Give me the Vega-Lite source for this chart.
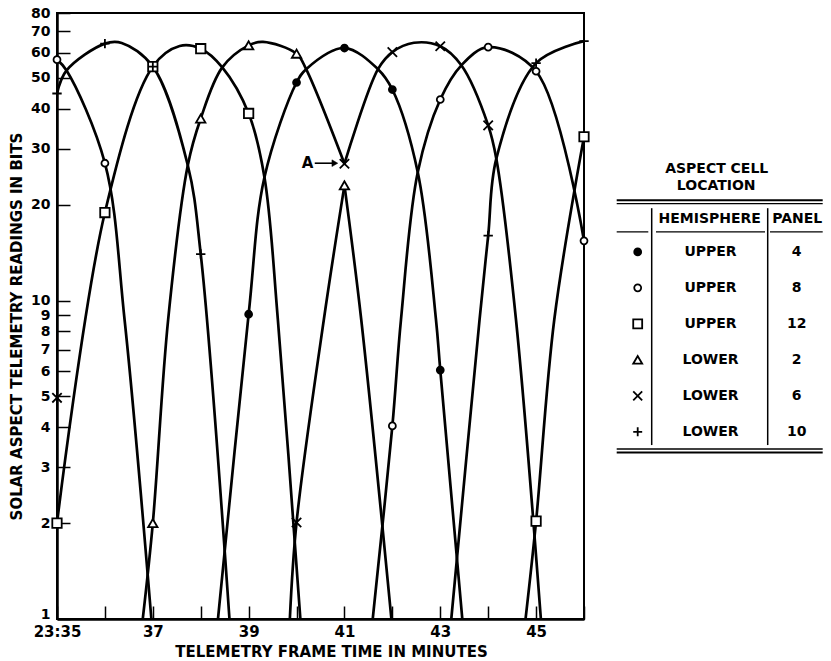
{
  "$schema": "https://vega.github.io/schema/vega-lite/v6.json",
  "background": "white",
  "padding": {"left": 8, "top": 5, "right": 5, "bottom": 0},
  "bounds": "flush",
  "spacing": 28,
  "config": {
    "font": "DejaVu Sans",
    "axis": {"grid": false, "domainColor": "black", "tickColor": "black", "labelColor": "black", "titleColor": "black", "labelFont": "DejaVu Sans", "titleFont": "DejaVu Sans", "labelFontWeight": "bold", "titleFontWeight": "bold"}
  },
  "datasets": {
    "curves": [
      {"path": "plus1", "minute": 35, "bits": 44.7},
      {"path": "plus1", "minute": 35.2, "bits": 52.8},
      {"path": "plus1", "minute": 36, "bits": 64.1},
      {"path": "plus1", "minute": 36.35, "bits": 64.4},
      {"path": "plus1", "minute": 37, "bits": 54.3},
      {"path": "plus1", "minute": 37.73, "bits": 26.6},
      {"path": "plus1", "minute": 38, "bits": 14.0},
      {"path": "plus1", "minute": 38.6, "bits": 1},
      {"path": "circ1", "minute": 35, "bits": 57.1},
      {"path": "circ1", "minute": 35.2, "bits": 52.8},
      {"path": "circ1", "minute": 36, "bits": 27.0},
      {"path": "circ1", "minute": 36.41, "bits": 8.72},
      {"path": "circ1", "minute": 36.97, "bits": 1},
      {"path": "sq1", "minute": 35, "bits": 2.0},
      {"path": "sq1", "minute": 36, "bits": 18.9},
      {"path": "sq1", "minute": 37, "bits": 54.3},
      {"path": "sq1", "minute": 37.56, "bits": 63.0},
      {"path": "sq1", "minute": 38, "bits": 61.8},
      {"path": "sq1", "minute": 38.45, "bits": 54.0},
      {"path": "sq1", "minute": 39, "bits": 38.7},
      {"path": "sq1", "minute": 39.33, "bits": 24.4},
      {"path": "sq1", "minute": 39.61, "bits": 8.72},
      {"path": "sq1", "minute": 40.08, "bits": 1},
      {"path": "tri1", "minute": 36.79, "bits": 1},
      {"path": "tri1", "minute": 37, "bits": 2.0},
      {"path": "tri1", "minute": 37.32, "bits": 8.72},
      {"path": "tri1", "minute": 37.73, "bits": 26.6},
      {"path": "tri1", "minute": 38, "bits": 37.3},
      {"path": "tri1", "minute": 38.45, "bits": 54.0},
      {"path": "tri1", "minute": 39, "bits": 63.3},
      {"path": "tri1", "minute": 39.3, "bits": 64.9},
      {"path": "tri1", "minute": 40, "bits": 59.6},
      {"path": "tri1", "minute": 40.2, "bits": 53.3},
      {"path": "tri1", "minute": 41, "bits": 26.9},
      {"path": "xA", "minute": 41, "bits": 26.9},
      {"path": "xA", "minute": 41.7, "bits": 53.3},
      {"path": "xA", "minute": 42, "bits": 60.3},
      {"path": "xA", "minute": 42.45, "bits": 64.5},
      {"path": "xA", "minute": 43, "bits": 62.9},
      {"path": "xA", "minute": 43.44, "bits": 54.8},
      {"path": "xA", "minute": 44, "bits": 35.5},
      {"path": "xA", "minute": 44.17, "bits": 27.9},
      {"path": "xA", "minute": 44.58, "bits": 8.72},
      {"path": "xA", "minute": 45.1, "bits": 1},
      {"path": "lowL", "minute": 39.86, "bits": 1},
      {"path": "lowL", "minute": 40, "bits": 2.01},
      {"path": "lowL", "minute": 40.57, "bits": 8.72},
      {"path": "lowL", "minute": 41, "bits": 23.0},
      {"path": "lowR", "minute": 41, "bits": 23.0},
      {"path": "lowR", "minute": 41.35, "bits": 8.72},
      {"path": "lowR", "minute": 41.98, "bits": 1},
      {"path": "fc", "minute": 38.36, "bits": 1},
      {"path": "fc", "minute": 39, "bits": 9.06},
      {"path": "fc", "minute": 39.33, "bits": 24.4},
      {"path": "fc", "minute": 40, "bits": 48.4},
      {"path": "fc", "minute": 40.2, "bits": 53.3},
      {"path": "fc", "minute": 41, "bits": 62.1},
      {"path": "fc", "minute": 41.7, "bits": 53.3},
      {"path": "fc", "minute": 42, "bits": 46.0},
      {"path": "fc", "minute": 42.53, "bits": 25.3},
      {"path": "fc", "minute": 42.91, "bits": 8.72},
      {"path": "fc", "minute": 43, "bits": 6.05},
      {"path": "fc", "minute": 43.46, "bits": 1},
      {"path": "circ2", "minute": 41.59, "bits": 1},
      {"path": "circ2", "minute": 42, "bits": 4.04},
      {"path": "circ2", "minute": 42.18, "bits": 8.72},
      {"path": "circ2", "minute": 42.53, "bits": 25.3},
      {"path": "circ2", "minute": 43, "bits": 42.8},
      {"path": "circ2", "minute": 43.44, "bits": 54.8},
      {"path": "circ2", "minute": 44, "bits": 62.5},
      {"path": "circ2", "minute": 45, "bits": 52.5},
      {"path": "circ2", "minute": 46, "bits": 15.4},
      {"path": "plus2", "minute": 43.23, "bits": 1},
      {"path": "plus2", "minute": 43.82, "bits": 8.72},
      {"path": "plus2", "minute": 44, "bits": 16.0},
      {"path": "plus2", "minute": 44.17, "bits": 27.9},
      {"path": "plus2", "minute": 45, "bits": 55.7},
      {"path": "plus2", "minute": 46, "bits": 65.3},
      {"path": "sq2", "minute": 44.78, "bits": 1},
      {"path": "sq2", "minute": 45, "bits": 2.03},
      {"path": "sq2", "minute": 45.38, "bits": 8.72},
      {"path": "sq2", "minute": 46, "bits": 32.7}
    ],
    "readings": [
      {"panel": 4, "minute": 39, "bits": 9.06},
      {"panel": 4, "minute": 40, "bits": 48.4},
      {"panel": 4, "minute": 41, "bits": 62.1},
      {"panel": 4, "minute": 42, "bits": 46.0},
      {"panel": 4, "minute": 43, "bits": 6.05},
      {"panel": 8, "minute": 35, "bits": 57.1},
      {"panel": 8, "minute": 36, "bits": 27.0},
      {"panel": 8, "minute": 42, "bits": 4.04},
      {"panel": 8, "minute": 43, "bits": 42.8},
      {"panel": 8, "minute": 44, "bits": 62.5},
      {"panel": 8, "minute": 45, "bits": 52.5},
      {"panel": 8, "minute": 46, "bits": 15.4},
      {"panel": 12, "minute": 35, "bits": 2.0},
      {"panel": 12, "minute": 36, "bits": 18.9},
      {"panel": 12, "minute": 37, "bits": 54.3},
      {"panel": 12, "minute": 38, "bits": 61.8},
      {"panel": 12, "minute": 39, "bits": 38.7},
      {"panel": 12, "minute": 45, "bits": 2.03},
      {"panel": 12, "minute": 46, "bits": 32.7},
      {"panel": 2, "minute": 37, "bits": 2.0},
      {"panel": 2, "minute": 38, "bits": 37.3},
      {"panel": 2, "minute": 39, "bits": 63.3},
      {"panel": 2, "minute": 40, "bits": 59.6},
      {"panel": 2, "minute": 41, "bits": 23.0},
      {"panel": 6, "minute": 35, "bits": 4.95},
      {"panel": 6, "minute": 40, "bits": 2.01},
      {"panel": 6, "minute": 41, "bits": 26.9},
      {"panel": 6, "minute": 42, "bits": 60.3},
      {"panel": 6, "minute": 43, "bits": 62.9},
      {"panel": 6, "minute": 44, "bits": 35.5},
      {"panel": 10, "minute": 35, "bits": 44.7},
      {"panel": 10, "minute": 36, "bits": 64.1},
      {"panel": 10, "minute": 37, "bits": 54.3},
      {"panel": 10, "minute": 38, "bits": 14.0},
      {"panel": 10, "minute": 44, "bits": 16.0},
      {"panel": 10, "minute": 45, "bits": 55.7},
      {"panel": 10, "minute": 46, "bits": 65.3}
    ],
    "cells": [
      {"panel": 4, "hemisphere": "UPPER"},
      {"panel": 8, "hemisphere": "UPPER"},
      {"panel": 12, "hemisphere": "UPPER"},
      {"panel": 2, "hemisphere": "LOWER"},
      {"panel": 6, "hemisphere": "LOWER"},
      {"panel": 10, "hemisphere": "LOWER"}
    ]
  },
  "hconcat": [
    {
      "width": 527,
      "height": 606,
      "view": {"stroke": "black", "strokeWidth": 2},
      "layer": [
        {
          "data": {"name": "curves"},
          "mark": {"type": "line", "interpolate": "catmull-rom", "color": "black", "strokeWidth": 2.7, "clip": true},
          "encoding": {
            "x": {
              "field": "minute", "type": "quantitative",
              "scale": {"domain": [35, 46], "nice": false, "zero": false},
              "axis": {
                "values": [35, 36, 37, 38, 39, 40, 41, 42, 43, 44, 45, 46],
                "labelExpr": "datum.value == 35 ? '23:35' : (datum.value % 2 == 1 ? '' + datum.value : '')",
                "tickSize": -13, "tickWidth": 1.5, "labelPadding": 18, "labelFontSize": 15,
                "domainWidth": 2.5, "title": "TELEMETRY FRAME TIME IN MINUTES", "titleFontSize": 15,
                "titlePadding": 5, "titleX": 274, "labelOverlap": false, "labelFlush": false
              }
            },
            "y": {
              "field": "bits", "type": "quantitative",
              "scale": {"type": "log", "domain": [1, 80], "nice": false},
              "axis": {
                "values": [1, 2, 3, 4, 5, 6, 7, 8, 9, 10, 20, 30, 40, 50, 60, 70, 80],
                "format": "d", "tickSize": -13, "tickWidth": 1.5, "labelPadding": 20, "labelFontSize": 14,
                "labelOffset": {"condition": {"test": "datum.value == 1", "value": -5}, "value": 0},
                "domainWidth": 2.5, "title": "SOLAR ASPECT TELEMETRY READINGS IN BITS", "titleFontSize": 15,
                "titlePadding": 6, "titleY": 313, "labelOverlap": false, "labelFlush": false
              }
            },
            "detail": {"field": "path"}
          }
        },
        {
          "data": {"name": "readings"},
          "transform": [{"filter": "datum.panel == 4 || datum.panel == 8"}],
          "mark": {"type": "point", "filled": true, "stroke": "black", "strokeWidth": 1.8, "opacity": 1, "size": 48},
          "encoding": {
            "x": {"field": "minute", "type": "quantitative"},
            "y": {"field": "bits", "type": "quantitative"},
            "shape": {"field": "panel", "type": "nominal", "scale": {"domain": [4, 8, 12, 2, 6, 10], "range": ["circle", "circle", "square", "triangle-up", "M-1,-1L1,1M-1,1L1,-1", "M-1,0L1,0M0,-1L0,1"]}, "legend": null},
            "fill": {"field": "panel", "type": "nominal", "scale": {"domain": [4, 8, 12, 2, 6, 10], "range": ["black", "white", "white", "white", "white", "white"]}, "legend": null}
          }
        },
        {
          "data": {"name": "readings"},
          "transform": [{"filter": "datum.panel != 4 && datum.panel != 8"}],
          "mark": {"type": "point", "filled": true, "stroke": "black", "strokeWidth": 1.8, "opacity": 1, "size": 88},
          "encoding": {
            "x": {"field": "minute", "type": "quantitative"},
            "y": {"field": "bits", "type": "quantitative"},
            "shape": {"field": "panel", "type": "nominal", "scale": {"domain": [4, 8, 12, 2, 6, 10], "range": ["circle", "circle", "square", "triangle-up", "M-1,-1L1,1M-1,1L1,-1", "M-1,0L1,0M0,-1L0,1"]}, "legend": null},
            "fill": {"field": "panel", "type": "nominal", "scale": {"domain": [4, 8, 12, 2, 6, 10], "range": ["black", "white", "white", "white", "white", "white"]}, "legend": null}
          }
        },
        {
          "data": {"values": [{"note": "A"}]},
          "mark": {"type": "text", "fontSize": 15, "fontWeight": "bold", "fill": "black", "baseline": "middle", "align": "center"},
          "encoding": {
            "x": {"datum": 40.23, "type": "quantitative"},
            "y": {"datum": 27, "type": "quantitative"},
            "text": {"field": "note"}
          }
        },
        {
          "data": {"values": [{"note": "A"}]},
          "mark": {"type": "rule", "stroke": "black", "strokeWidth": 1.6},
          "encoding": {
            "x": {"datum": 40.38, "type": "quantitative"},
            "x2": {"datum": 40.76},
            "y": {"datum": 27, "type": "quantitative"}
          }
        },
        {
          "data": {"values": [{"note": "A"}]},
          "mark": {"type": "point", "shape": "triangle-right", "filled": true, "fill": "black", "stroke": "black", "strokeWidth": 0.5, "opacity": 1, "size": 45},
          "encoding": {
            "x": {"datum": 40.8, "type": "quantitative"},
            "y": {"datum": 27, "type": "quantitative"}
          }
        }
      ]
    },
    {
      "width": 212,
      "height": 606,
      "view": {"stroke": null},
      "layer": [
        {
          "data": {"values": [{}]},
          "mark": {"type": "text", "text": "ASPECT CELL", "fontSize": 14, "fontWeight": "bold", "color": "black", "baseline": "middle", "align": "center"},
          "encoding": {
            "x": {"datum": 104.7, "type": "quantitative", "scale": {"domain": [0, 212], "nice": false, "zero": false}, "axis": null},
            "y": {"datum": -1.30, "type": "quantitative", "scale": {"domain": [11.203, -5.639], "nice": false, "zero": false}, "axis": null}
          }
        },
        {
          "data": {"values": [{}]},
          "mark": {"type": "text", "text": "LOCATION", "fontSize": 14, "fontWeight": "bold", "color": "black", "baseline": "middle", "align": "center"},
          "encoding": {
            "x": {"datum": 104.2, "type": "quantitative", "scale": {"domain": [0, 212], "nice": false, "zero": false}, "axis": null},
            "y": {"datum": -0.83, "type": "quantitative", "scale": {"domain": [11.203, -5.639], "nice": false, "zero": false}, "axis": null}
          }
        },
        {
          "data": {"values": [{}]},
          "mark": {"type": "rule", "color": "black", "strokeWidth": 2},
          "encoding": {
            "x": {"datum": 4.7, "type": "quantitative", "scale": {"domain": [0, 212], "nice": false, "zero": false}, "axis": null},
            "x2": {"datum": 210.7},
            "y": {"datum": -0.436, "type": "quantitative", "scale": {"domain": [11.203, -5.639], "nice": false, "zero": false}, "axis": null}
          }
        },
        {
          "data": {"values": [{}]},
          "mark": {"type": "rule", "color": "black", "strokeWidth": 1.3},
          "encoding": {
            "x": {"datum": 4.7, "type": "quantitative", "scale": {"domain": [0, 212], "nice": false, "zero": false}, "axis": null},
            "x2": {"datum": 210.7},
            "y": {"datum": -0.339, "type": "quantitative", "scale": {"domain": [11.203, -5.639], "nice": false, "zero": false}, "axis": null}
          }
        },
        {
          "data": {"values": [{}]},
          "mark": {"type": "rule", "color": "black", "strokeWidth": 1.5},
          "encoding": {
            "x": {"datum": 4.7, "type": "quantitative", "scale": {"domain": [0, 212], "nice": false, "zero": false}, "axis": null},
            "x2": {"datum": 210.7},
            "y": {"datum": 6.481, "type": "quantitative", "scale": {"domain": [11.203, -5.639], "nice": false, "zero": false}, "axis": null}
          }
        },
        {
          "data": {"values": [{}]},
          "mark": {"type": "rule", "color": "black", "strokeWidth": 2},
          "encoding": {
            "x": {"datum": 4.7, "type": "quantitative", "scale": {"domain": [0, 212], "nice": false, "zero": false}, "axis": null},
            "x2": {"datum": 210.7},
            "y": {"datum": 6.578, "type": "quantitative", "scale": {"domain": [11.203, -5.639], "nice": false, "zero": false}, "axis": null}
          }
        },
        {
          "data": {"values": [{}]},
          "mark": {"type": "rule", "color": "black", "strokeWidth": 1.2},
          "encoding": {
            "x": {"datum": 4.7, "type": "quantitative", "scale": {"domain": [0, 212], "nice": false, "zero": false}, "axis": null},
            "x2": {"datum": 36.3},
            "y": {"datum": 0.444, "type": "quantitative", "scale": {"domain": [11.203, -5.639], "nice": false, "zero": false}, "axis": null}
          }
        },
        {
          "data": {"values": [{}]},
          "mark": {"type": "rule", "color": "black", "strokeWidth": 1.2},
          "encoding": {
            "x": {"datum": 44, "type": "quantitative", "scale": {"domain": [0, 212], "nice": false, "zero": false}, "axis": null},
            "x2": {"datum": 153},
            "y": {"datum": 0.444, "type": "quantitative", "scale": {"domain": [11.203, -5.639], "nice": false, "zero": false}, "axis": null}
          }
        },
        {
          "data": {"values": [{}]},
          "mark": {"type": "rule", "color": "black", "strokeWidth": 1.2},
          "encoding": {
            "x": {"datum": 158, "type": "quantitative", "scale": {"domain": [0, 212], "nice": false, "zero": false}, "axis": null},
            "x2": {"datum": 210.7},
            "y": {"datum": 0.444, "type": "quantitative", "scale": {"domain": [11.203, -5.639], "nice": false, "zero": false}, "axis": null}
          }
        },
        {
          "data": {"values": [{}]},
          "mark": {"type": "rule", "color": "black", "strokeWidth": 1.5},
          "encoding": {
            "x": {"datum": 39.7, "type": "quantitative", "scale": {"domain": [0, 212], "nice": false, "zero": false}, "axis": null},
            "y": {"datum": -0.214, "type": "quantitative", "scale": {"domain": [11.203, -5.639], "nice": false, "zero": false}, "axis": null},
            "y2": {"datum": 6.369}
          }
        },
        {
          "data": {"values": [{}]},
          "mark": {"type": "rule", "color": "black", "strokeWidth": 1.5},
          "encoding": {
            "x": {"datum": 155.7, "type": "quantitative", "scale": {"domain": [0, 212], "nice": false, "zero": false}, "axis": null},
            "y": {"datum": -0.214, "type": "quantitative", "scale": {"domain": [11.203, -5.639], "nice": false, "zero": false}, "axis": null},
            "y2": {"datum": 6.369}
          }
        },
        {
          "data": {"values": [{}]},
          "mark": {"type": "text", "text": "HEMISPHERE", "fontSize": 14, "fontWeight": "bold", "color": "black", "baseline": "middle", "align": "center"},
          "encoding": {
            "x": {"datum": 97.7, "type": "quantitative", "scale": {"domain": [0, 212], "nice": false, "zero": false}, "axis": null},
            "y": {"datum": 0.1, "type": "quantitative", "scale": {"domain": [11.203, -5.639], "nice": false, "zero": false}, "axis": null}
          }
        },
        {
          "data": {"values": [{}]},
          "mark": {"type": "text", "text": "PANEL", "fontSize": 14, "fontWeight": "bold", "color": "black", "baseline": "middle", "align": "center"},
          "encoding": {
            "x": {"datum": 185.2, "type": "quantitative", "scale": {"domain": [0, 212], "nice": false, "zero": false}, "axis": null},
            "y": {"datum": 0.1, "type": "quantitative", "scale": {"domain": [11.203, -5.639], "nice": false, "zero": false}, "axis": null}
          }
        },
        {
          "data": {"name": "cells"},
          "transform": [{"window": [{"op": "row_number", "as": "row"}]}, {"filter": "datum.panel == 4 || datum.panel == 8"}],
          "mark": {"type": "point", "filled": true, "stroke": "black", "strokeWidth": 1.8, "opacity": 1, "size": 48},
          "encoding": {
            "x": {"datum": 25.7, "type": "quantitative", "scale": {"domain": [0, 212], "nice": false, "zero": false}, "axis": null},
            "y": {"field": "row", "type": "quantitative", "scale": {"domain": [11.203, -5.639], "nice": false, "zero": false}, "axis": null},
            "shape": {"field": "panel", "type": "nominal", "scale": {"domain": [4, 8, 12, 2, 6, 10], "range": ["circle", "circle", "square", "triangle-up", "M-1,-1L1,1M-1,1L1,-1", "M-1,0L1,0M0,-1L0,1"]}, "legend": null},
            "fill": {"field": "panel", "type": "nominal", "scale": {"domain": [4, 8, 12, 2, 6, 10], "range": ["black", "white", "white", "white", "white", "white"]}, "legend": null}
          }
        },
        {
          "data": {"name": "cells"},
          "transform": [{"window": [{"op": "row_number", "as": "row"}]}, {"filter": "datum.panel != 4 && datum.panel != 8"}],
          "mark": {"type": "point", "filled": true, "stroke": "black", "strokeWidth": 1.8, "opacity": 1, "size": 80},
          "encoding": {
            "x": {"datum": 25.7, "type": "quantitative", "scale": {"domain": [0, 212], "nice": false, "zero": false}, "axis": null},
            "y": {"field": "row", "type": "quantitative", "scale": {"domain": [11.203, -5.639], "nice": false, "zero": false}, "axis": null},
            "shape": {"field": "panel", "type": "nominal", "scale": {"domain": [4, 8, 12, 2, 6, 10], "range": ["circle", "circle", "square", "triangle-up", "M-1,-1L1,1M-1,1L1,-1", "M-1,0L1,0M0,-1L0,1"]}, "legend": null},
            "fill": {"field": "panel", "type": "nominal", "scale": {"domain": [4, 8, 12, 2, 6, 10], "range": ["black", "white", "white", "white", "white", "white"]}, "legend": null}
          }
        },
        {
          "data": {"name": "cells"},
          "transform": [{"window": [{"op": "row_number", "as": "row"}]}],
          "mark": {"type": "text", "fontSize": 14, "fontWeight": "bold", "color": "black", "baseline": "middle", "align": "center"},
          "encoding": {
            "x": {"datum": 98.5, "type": "quantitative", "scale": {"domain": [0, 212], "nice": false, "zero": false}, "axis": null},
            "y": {"field": "row", "type": "quantitative", "scale": {"domain": [11.203, -5.639], "nice": false, "zero": false}, "axis": null},
            "text": {"field": "hemisphere"}
          }
        },
        {
          "data": {"name": "cells"},
          "transform": [{"window": [{"op": "row_number", "as": "row"}]}],
          "mark": {"type": "text", "fontSize": 14, "fontWeight": "bold", "color": "black", "baseline": "middle", "align": "center"},
          "encoding": {
            "x": {"datum": 184.7, "type": "quantitative", "scale": {"domain": [0, 212], "nice": false, "zero": false}, "axis": null},
            "y": {"field": "row", "type": "quantitative", "scale": {"domain": [11.203, -5.639], "nice": false, "zero": false}, "axis": null},
            "text": {"field": "panel"}
          }
        }
      ]
    }
  ]
}
